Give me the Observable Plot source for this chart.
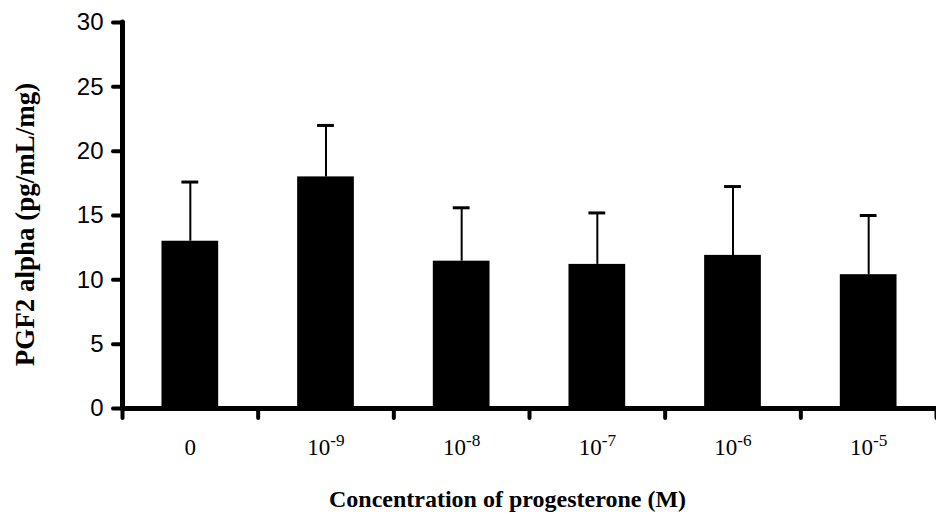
<!DOCTYPE html>
<html><head><meta charset="utf-8">
<script src="https://cdn.jsdelivr.net/npm/d3@7"></script>
<script src="https://cdn.jsdelivr.net/npm/@observablehq/plot@0.6"></script>
<style>body{margin:0;background:#fff} svg{display:block}</style>
</head><body><div id="chart"></div>
<script>
const categories = ["0", "10^-9", "10^-8", "10^-7", "10^-6", "10^-5"];
const means = [13.0, 18.0, 11.45, 11.2, 11.9, 10.4];
const errors = [4.6, 4.0, 4.15, 4.0, 5.35, 4.6];
const yTicks = [0, 5, 10, 15, 20, 25, 30];
const yTitle = "PGF2 alpha (pg/mL/mg)";
const xTitle = "Concentration of progesterone (M)";

const data = categories.map((c, i) => ({i, c, mean: means[i], upper: means[i] + errors[i]}));
const boundaries = d3.range(categories.length + 1);
const centers = d3.range(categories.length).map(i => i + 0.5);
const half = 0.209, cap = 0.062;
const serif = "'Liberation Serif', 'Times New Roman', serif";
const sans = "'Liberation Sans', Arial, sans-serif";

const chart = Plot.plot({
  width: 936, height: 513,
  marginLeft: 122, marginRight: 0, marginTop: 22, marginBottom: 105,
  x: {type: "linear", domain: [0, categories.length]},
  y: {domain: [0, 30]},
  style: {background: "white", color: "black"},
  marks: [
    Plot.rectY(data, {x1: d => d.i + 0.5 - half, x2: d => d.i + 0.5 + half, y1: 0, y2: "mean", fill: "black"}),
    Plot.ruleX(data, {x: d => d.i + 0.5, y1: "mean", y2: "upper", stroke: "black", strokeWidth: 2}),
    Plot.ruleY(data, {y: "upper", x1: d => d.i + 0.5 - cap, x2: d => d.i + 0.5 + cap, stroke: "black", strokeWidth: 3}),
    Plot.axisY({ticks: yTicks, tickSize: 9, tickPadding: 10, strokeWidth: 4, strokeLinecap: "round",
      fontSize: 24, fontFamily: sans, label: null}),
    Plot.axisX({ticks: boundaries, tickSize: 10, tickFormat: () => "", strokeWidth: 4, strokeLinecap: "round", label: null}),
    Plot.axisX({ticks: centers, tickSize: 0, tickPadding: 30, tickFormat: v => categories[Math.floor(v)],
      fontSize: 23, fontFamily: serif, label: null}),
    Plot.ruleX([0], {stroke: "black", strokeWidth: 5, strokeLinecap: "round"}),
    Plot.ruleY([0], {stroke: "black", strokeWidth: 5}),
    Plot.text([yTitle], {text: d => d, frameAnchor: "left", textAnchor: "middle", lineAnchor: "middle",
      rotate: -90, dx: -97, dy: 9, fontSize: 27, fontWeight: "bold", fontFamily: serif}),
    Plot.text([xTitle], {text: d => d, frameAnchor: "bottom", dx: -22, dy: 98,
      fontSize: 24, fontWeight: "bold", fontFamily: serif})
  ]
});

d3.select(chart).selectAll('g[aria-label="x-axis tick label"] text').each(function () {
  const s = this.textContent;
  const parts = s.split("^");
  if (parts.length > 1) {
    const t = d3.select(this);
    t.text(parts[0]);
    t.append("tspan").attr("dy", "-0.5em").attr("font-size", "0.75em").text(parts[1]);
  }
});

document.getElementById("chart").append(chart);
</script>
</body></html>
